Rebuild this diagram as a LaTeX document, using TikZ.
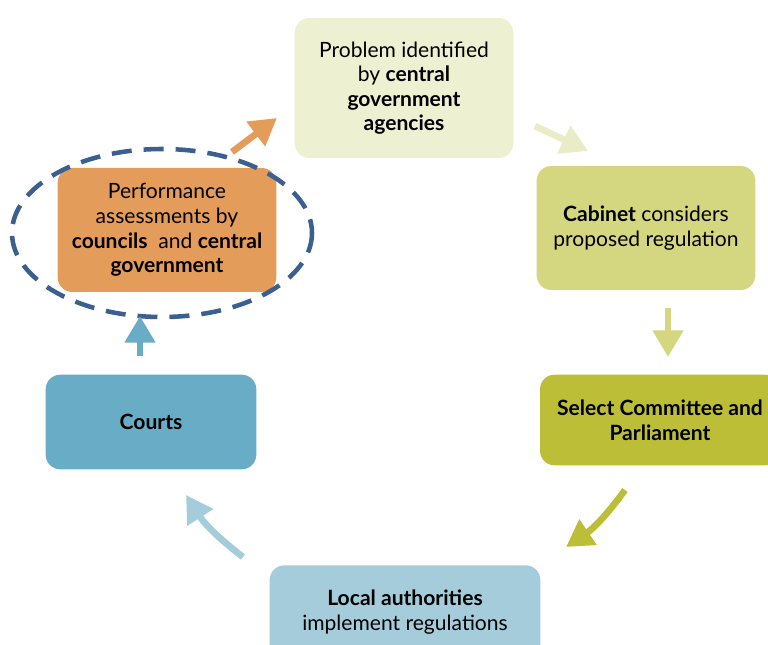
\documentclass[tikz,border=0pt]{standalone}
\usepackage{fontspec}
\setmainfont{Lato}
\usetikzlibrary{arrows.meta}
\definecolor{problemfill}{HTML}{EEF0D2}
\definecolor{cabinetfill}{HTML}{D4D680}
\definecolor{selectfill}{HTML}{BBBE36}
\definecolor{localfill}{HTML}{A4CCDB}
\definecolor{courtsfill}{HTML}{68ACC5}
\definecolor{perffill}{HTML}{E49C5A}
\definecolor{ringline}{HTML}{3B5F8F}
\begin{document}
\begin{tikzpicture}[x=0.75pt, y=-0.75pt,
    stage/.style={rectangle, rounded corners=11pt, inner sep=0pt, align=center,
        font=\fontsize{15.8}{18.4}\selectfont},
    flow/.style={line width=5pt, -{Triangle[length=20pt, width=22pt]}}]
        \useasboundingbox (0,0) rectangle (768,645);
        \clip (0,0) rectangle (768,645);

        % Draw nodes
        \node[stage, fill=problemfill, minimum width=164pt, minimum height=105pt] (problem) at (404,88)
            {Problem identified\\by \textbf{central}\\\textbf{government}\\\textbf{agencies}};
        \node[stage, fill=cabinetfill, minimum width=164pt, minimum height=93pt] (cabinet) at (646,228)
            {\textbf{Cabinet} considers\\proposed regulation};
        \node[stage, fill=selectfill, minimum width=180pt, minimum height=68pt] (select) at (660,420)
            {\textbf{Select Committee and}\\\textbf{Parliament}};
        \node[stage, fill=localfill, minimum width=203pt, minimum height=70pt] (local) at (405,612)
            {\textbf{Local authorities}\\implement regulations};
        \node[stage, fill=courtsfill, minimum width=158pt, minimum height=71pt] (courts) at (151,422)
            {\textbf{Courts}};
        \node[stage, fill=perffill, minimum width=164pt, minimum height=93pt] (perf) at (167,230)
            {Performance\\assessments by\\\textbf{councils}~ and \textbf{central}\\\textbf{government}};

        % Dashed ring
        \draw[ringline, line width=3.4pt, dash pattern=on 15pt off 9pt] (162,233) ellipse [x radius=150, y radius=84];

        % Arrow ends
        \coordinate (a1) at (232,152);
        \coordinate (b1) at (277,118);
        \coordinate (a2) at (535,126);
        \coordinate (b2) at (588,151);
        \coordinate (a3) at (668,308);
        \coordinate (b3) at (668,357);
        \coordinate (a4) at (625,490);
        \coordinate (b4) at (566,547);
        \coordinate (a5) at (243,557);
        \coordinate (b5) at (186,495);
        \coordinate (a6) at (140,356);
        \coordinate (b6) at (140,316);

        % Draw connections
        \draw[flow, perffill] (a1) -- (b1);
        \draw[flow, problemfill!85!cabinetfill] (a2) -- (b2);
        \draw[flow, cabinetfill] (a3) -- (b3);
        \draw[flow, selectfill] (a4) to[bend left=10] (b4);
        \draw[flow, localfill] (a5) to[bend left=10] (b5);
        \draw[flow, courtsfill] (a6) -- (b6);
    \end{tikzpicture}
\end{document}
